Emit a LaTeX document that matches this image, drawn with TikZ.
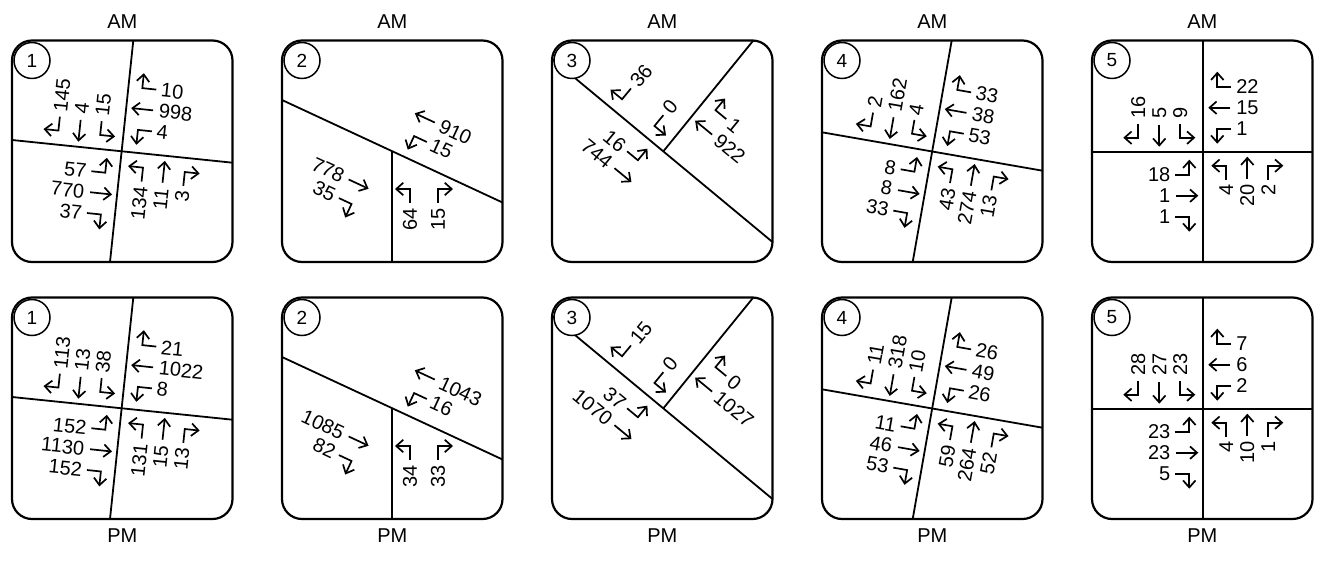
\documentclass[tikz,border=0pt]{standalone}
\usepackage{fontspec}
\setmainfont{Liberation Sans}
\usepackage{xcolor}
\usepackage{tikz}
\usetikzlibrary{arrows.meta}

\tikzset{
  flowarrow/.style={draw=drawColor,line width=1.7pt,-{Straight Barb[length=7pt,width=12.5pt]}},
  tally/.style={text=drawColor,inner sep=0pt,outer sep=0pt,font=\fontsize{20}{22}\selectfont},
  road/.style={draw=drawColor,line width=1.8pt},
  boxframe/.style={draw=drawColor,line width=2.2pt,rounded corners=20pt},
  badge/.style={draw=drawColor,fill=fillColor,line width=1.5pt,circle,minimum size=36pt,inner sep=0pt,font=\fontsize{19}{21}\selectfont}
}

\newcommand{\slotgap}{21}
\newcommand{\legrot}{0}
% one approach: left-slot turn, through, right-slot turn (southbound frame)
\newcommand{\approach}[5][(-44,14)]{%
  \pgfmathsetmacro{\txtang}{mod(\legrot+#2+899,360)-89}%
  \pgfmathtruncatemacro{\flip}{\txtang>90.5}%
  \ifnum\flip=1
    \pgfmathsetmacro{\txtang}{\txtang-180}\def\txtanchor{east}%
  \else
    \def\txtanchor{west}%
  \fi
  \begin{scope}[rotate=#2,shift={#1}]
    \if\relax\detokenize{#3}\relax\else
      \path[flowarrow] (-\slotgap,14) -- (-\slotgap,0) -- (-\slotgap-15,0);
      \node[tally,rotate=\txtang,anchor=\txtanchor] at (-\slotgap,19) {#3};
    \fi
    \if\relax\detokenize{#4}\relax\else
      \path[flowarrow] (0,13) -- (0,-9);
      \node[tally,rotate=\txtang,anchor=\txtanchor] at (0,19) {#4};
    \fi
    \if\relax\detokenize{#5}\relax\else
      \path[flowarrow] (\slotgap,14) -- (\slotgap,0) -- (\slotgap+15,0);
      \node[tally,rotate=\txtang,anchor=\txtanchor] at (\slotgap,19) {#5};
    \fi
  \end{scope}}

\begin{document}
\begin{tikzpicture}[x=1pt,y=1pt]
\definecolor{fillColor}{RGB}{255,255,255}
\definecolor{drawColor}{RGB}{0,0,0}
\path[use as bounding box,fill=fillColor] (0,0) rectangle (1323,560);

% frames, roads and badges
\foreach \yb/\tag/\tagy in {298/AM/538.5, 41/PM/24.5} {
  \foreach \xb [count=\k] in {12,282,552,822,1092} {
    \begin{scope}[shift={(\xb,\yb)}]
      \ifcase\k\or
        \path[road] (121.3,221.5) -- (98,0);
        \path[road] (0,122) -- (220.5,99.3);
      \or
        \path[road] (0,162) -- (220.5,59.5);
        \path[road] (109.7,111) -- (109.7,0);
      \or
        \path[road] (0,203) -- (220.5,20);
        \path[road] (111.3,110.6) -- (201.3,221.5);
      \or
        \path[road] (129.7,221.5) -- (90.7,0);
        \path[road] (0,129.7) -- (220.5,91.3);
      \or
        \path[road] (111.3,0) -- (111.3,221.5);
        \path[road] (0,110.3) -- (220.5,110.3);
      \fi
      \path[boxframe] (0,0) rectangle (220.5,221.5);
      \node[badge] (badge) at (20,201.5) {\k};
    \end{scope}
    \node[tally] (tag) at (\xb+110.25,\tagy) {\tag};
  }
}

% AM counts
\begin{scope}[shift={(121.6,408.7)},rotate=-6]\def\legrot{-6}
  \approach{0}{145}{4}{15}
  \approach{-90}{10}{998}{4}
  \approach{180}{3}{11}{134}
  \approach{90}{37}{770}{57}
\end{scope}
\begin{scope}[shift={(391.7,409)},rotate=-25]\def\legrot{-25}
  \approach{-90}{}{910}{15}
  \approach{90}{35}{778}{}
\end{scope}
\begin{scope}[shift={(391.7,409)}]\def\slotgap{14}
  \approach[(-32.3,38)]{180}{15}{}{64}
\end{scope}
\begin{scope}[shift={(663.3,408.6)},rotate=-39.5]\def\legrot{-39.5}
  \approach{0}{36}{}{0}
  \approach{-90}{1}{922}{}
  \approach{90}{}{744}{16}
\end{scope}
\begin{scope}[shift={(932.2,408.5)},rotate=-10]\def\legrot{-10}
  \approach{0}{2}{162}{4}
  \approach{-90}{33}{38}{53}
  \approach{180}{13}{274}{43}
  \approach{90}{33}{8}{8}
\end{scope}
\begin{scope}[shift={(1203.3,408.3)}]
  \approach{0}{16}{5}{9}
  \approach{-90}{22}{15}{1}
  \approach{180}{2}{20}{4}
  \approach{90}{1}{1}{18}
\end{scope}

% PM counts
\begin{scope}[shift={(121.6,151.7)},rotate=-6]\def\legrot{-6}
  \approach{0}{113}{13}{38}
  \approach{-90}{21}{1022}{8}
  \approach{180}{13}{15}{131}
  \approach{90}{152}{1130}{152}
\end{scope}
\begin{scope}[shift={(391.7,152)},rotate=-25]\def\legrot{-25}
  \approach{-90}{}{1043}{16}
  \approach{90}{82}{1085}{}
\end{scope}
\begin{scope}[shift={(391.7,152)}]\def\slotgap{14}
  \approach[(-32.3,38)]{180}{33}{}{34}
\end{scope}
\begin{scope}[shift={(663.3,151.6)},rotate=-39.5]\def\legrot{-39.5}
  \approach{0}{15}{}{0}
  \approach{-90}{0}{1027}{}
  \approach{90}{}{1070}{37}
\end{scope}
\begin{scope}[shift={(932.2,151.5)},rotate=-10]\def\legrot{-10}
  \approach{0}{11}{318}{10}
  \approach{-90}{26}{49}{26}
  \approach{180}{52}{264}{59}
  \approach{90}{53}{46}{11}
\end{scope}
\begin{scope}[shift={(1203.3,151.3)}]
  \approach{0}{28}{27}{23}
  \approach{-90}{7}{6}{2}
  \approach{180}{1}{10}{4}
  \approach{90}{5}{23}{23}
\end{scope}
\end{tikzpicture}
\end{document}
